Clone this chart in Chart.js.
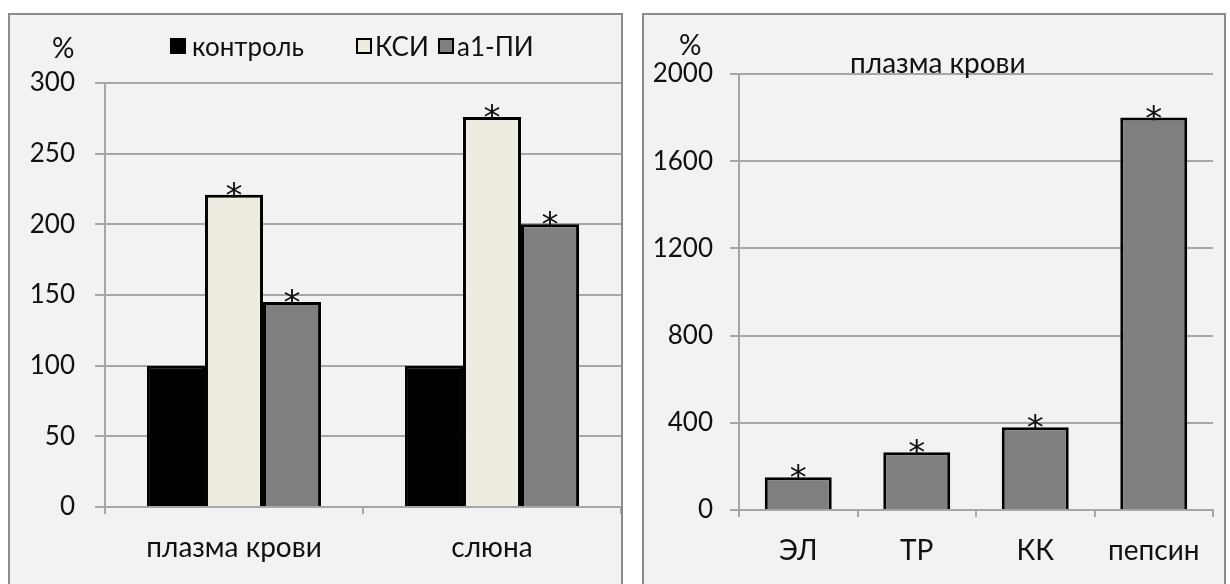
<!DOCTYPE html>
<html>
<head>
<meta charset="utf-8">
<script src="https://cdn.jsdelivr.net/npm/chart.js@4.4.1/dist/chart.umd.min.js"></script>
<style>
  body { margin: 0; width: 1230px; height: 584px; background: #fff; overflow: hidden; font-family: Lato, sans-serif; color: #111; }
  .panel { position: absolute; top: 13px; height: 600px; background: #f2f2f2; border: 2px solid #8c8c8c; box-sizing: border-box; }
  .holder { position: absolute; }
  .txt { position: absolute; font-size: 28px; line-height: 28px; white-space: nowrap; }
  .leg { font-size: 26px; }
  .sq { position: absolute; width: 12px; height: 12px; border: 2px solid #000; }
</style>
</head>
<body>
<div class="panel" style="left:8px; width:615px;"></div>
<div class="panel" style="left:642px; width:584px;"></div>

<div class="holder" style="left:10px; top:15px; width:611px; height:569px;"><canvas id="left-chart"></canvas></div>
<div class="holder" style="left:645px; top:15px; width:578px; height:569px;"><canvas id="right-chart"></canvas></div>

<!-- left panel texts -->
<div class="txt" style="left:52px; top:33px;">%</div>
<div class="sq" style="left:170px; top:38px; background:#000;"></div>
<div class="txt leg" style="left:192px; top:32px;">контроль</div>
<div class="sq" style="left:356px; top:38px; background:#eeece1;"></div>
<div class="txt leg" style="left:375px; top:32px;">КСИ</div>
<div class="sq" style="left:438px; top:38px; background:#7f7f7f;"></div>
<div class="txt leg" style="left:457px; top:32px;">а1-ПИ</div>

<!-- right panel texts -->
<div class="txt" style="left:679px; top:30px;">%</div>
<div class="txt" style="left:850px; top:48px;">плазма крови</div>

<script>
// left chart: % of control
const groupLabels = ['плазма крови', 'слюна'];
const controlValues = [100, 100];
const ksiValues = [221, 276];
const piValues = [145, 200];
const controlStars = [false, false];
const ksiStars = [true, true];
const piStars = [true, true];

// right chart: plasma
const enzymeLabels = ['ЭЛ', 'ТР', 'КК', 'пепсин'];
const enzymeValues = [150, 265, 380, 1800];
const enzymeStars = [true, true, true, true];

const GRID = '#a6a6a6';
const TXT = '#111';
const yFont = { family: 'Lato', size: 26 };
const xFont = { family: 'Lato', size: 28 };

// asterisks over significant bars
const starPlugin = {
    id: 'stars',
    afterDatasetsDraw(chart) {
        const ctx = chart.ctx;
        ctx.save();
        ctx.fillStyle = '#111';
        ctx.font = '34px "DejaVu Sans"';
        ctx.textAlign = 'center';
        ctx.textBaseline = 'alphabetic';
        chart.data.datasets.forEach((ds, i) => {
            if (!ds.stars) return;
            chart.getDatasetMeta(i).data.forEach((bar, j) => {
                if (ds.stars[j]) ctx.fillText('*', bar.x, bar.y + 12);
            });
        });
        ctx.restore();
    }
};

function axes(yMax, yStep, yWidth, xHeight, yPad, tickLen) {
    return {
        x: {
            offset: true,
            grid: { drawOnChartArea: false, color: GRID, lineWidth: 2, tickLength: 7 },
            border: { color: GRID, width: 2 },
            ticks: { font: xFont, color: TXT, padding: 17 },
            afterFit: s => { s.height = xHeight; }
        },
        y: {
            min: 0, max: yMax,
            grid: { color: GRID, lineWidth: 2, tickLength: tickLen },
            border: { color: GRID, width: 2 },
            ticks: { stepSize: yStep, font: yFont, color: TXT, padding: yPad, callback: v => String(v) },
            afterFit: s => { s.width = yWidth; }
        }
    };
}

new Chart(document.getElementById('left-chart'), {
    type: 'bar',
    data: {
        labels: groupLabels,
        datasets: [
            { label: 'контроль', data: controlValues, stars: controlStars, backgroundColor: '#000', borderColor: '#000', borderWidth: 3 },
            { label: 'КСИ', data: ksiValues, stars: ksiStars, backgroundColor: '#eeece1', borderColor: '#000', borderWidth: 3 },
            { label: 'а1-ПИ', data: piValues, stars: piStars, backgroundColor: '#7f7f7f', borderColor: '#000', borderWidth: 3 }
        ]
    },
    options: {
        responsive: true,
        maintainAspectRatio: false,
        animation: false,
        layout: { padding: { top: 68, right: 0, left: 0, bottom: 0 } },
        datasets: { bar: { categoryPercentage: 0.675, barPercentage: 1, borderSkipped: 'start' } },
        plugins: { legend: { display: false }, tooltip: { enabled: false } },
        scales: axes(300, 50, 95, 77, 20, 10)
    },
    plugins: [starPlugin]
});

new Chart(document.getElementById('right-chart'), {
    type: 'bar',
    data: {
        labels: enzymeLabels,
        datasets: [
            { label: 'плазма крови', data: enzymeValues, stars: enzymeStars, backgroundColor: '#7f7f7f', borderColor: '#000', borderWidth: 3 }
        ]
    },
    options: {
        responsive: true,
        maintainAspectRatio: false,
        animation: false,
        layout: { padding: { top: 59, right: 10, left: 0, bottom: 0 } },
        datasets: { bar: { categoryPercentage: 0.565, barPercentage: 1, borderSkipped: 'start' } },
        plugins: { legend: { display: false }, tooltip: { enabled: false } },
        scales: axes(2000, 400, 94, 74, 17, 9)
    },
    plugins: [starPlugin]
});
</script>
</body>
</html>
